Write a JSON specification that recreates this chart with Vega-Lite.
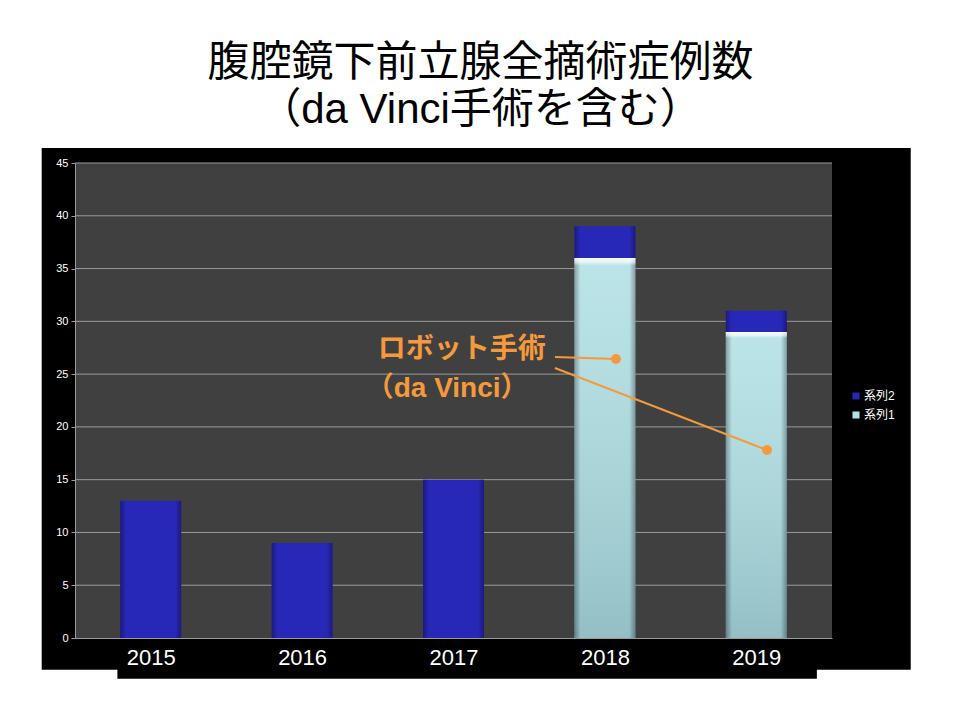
{
  "$schema": "https://vega.github.io/schema/vega-lite/v6.json",
  "width": 757,
  "height": 475,
  "autosize": "none",
  "padding": {"left": 75, "top": 163, "right": 128, "bottom": 82},
  "background": "white",
  "title": {
    "text": ["腹腔鏡下前立腺全摘術症例数", "（da Vinci手術を含む）"],
    "font": "'Liberation Sans', 'Noto Sans CJK JP'",
    "fontSize": 42,
    "fontWeight": "normal",
    "color": "black",
    "anchor": "middle",
    "dx": 27,
    "lineHeight": 47,
    "offset": 16
  },
  "datasets": {
    "cases": [
      {"year": 2015, "series": "系列2", "count": 13},
      {"year": 2016, "series": "系列2", "count": 9},
      {"year": 2017, "series": "系列2", "count": 15},
      {"year": 2018, "series": "系列1", "count": 36},
      {"year": 2018, "series": "系列2", "count": 3},
      {"year": 2019, "series": "系列1", "count": 29},
      {"year": 2019, "series": "系列2", "count": 2}
    ],
    "grid": [
      {"v": 5}, {"v": 10}, {"v": 15}, {"v": 20}, {"v": 25},
      {"v": 30}, {"v": 35}, {"v": 40}, {"v": 45}
    ],
    "pointer": [
      {"line": "a", "year": 2017.67, "value": 26.62},
      {"line": "a", "year": 2018.073, "value": 26.43},
      {"line": "b", "year": 2017.67, "value": 25.58},
      {"line": "b", "year": 2019.071, "value": 17.81}
    ],
    "dots": [
      {"year": 2018.073, "value": 26.43},
      {"year": 2019.071, "value": 17.81}
    ],
    "notes": [
      {"year": 2016.5, "value": 27.28, "text": "ロボット手術"},
      {"year": 2016.42, "value": 23.59, "text": "（da Vinci）"}
    ]
  },
  "data": {"name": "cases"},
  "layer": [
    {
      "data": {"values": [{}]},
      "mark": {"type": "rect", "color": "black"},
      "encoding": {
        "x": {"datum": 2014.28, "type": "quantitative", "scale": {"domain": [2014.5, 2019.5], "nice": false, "zero": false, "padding": 0},
          "axis": {"title": null, "zindex": 1, "values": [2015, 2016, 2017, 2018, 2019], "format": "d", "labelFont": "Liberation Sans", "labelFontSize": 22, "labelColor": "white", "labelPadding": 9, "ticks": false, "grid": false, "domainColor": "#9a9a9a", "labelFlush": false}},
        "x2": {"datum": 2020.02},
        "y": {"datum": 46.42, "type": "quantitative", "scale": {"domain": [0, 45], "nice": false, "zero": false},
          "axis": {"title": null, "zindex": 1, "values": [0, 5, 10, 15, 20, 25, 30, 35, 40, 45], "labelFont": "Liberation Sans", "labelFontSize": 11, "labelColor": "white", "labelPadding": 3, "tickSize": 4, "tickColor": "#9a9a9a", "grid": false, "domainColor": "#9a9a9a"}},
        "y2": {"datum": -3.0}
      }
    },
    {
      "data": {"values": [{}]},
      "mark": {"type": "rect", "color": "black"},
      "encoding": {
        "x": {"datum": 2014.78, "type": "quantitative", "scale": {"domain": [2014.5, 2019.5], "nice": false, "zero": false, "padding": 0},
          "axis": {"title": null, "zindex": 1, "values": [2015, 2016, 2017, 2018, 2019], "format": "d", "labelFont": "Liberation Sans", "labelFontSize": 22, "labelColor": "white", "labelPadding": 9, "ticks": false, "grid": false, "domainColor": "#9a9a9a", "labelFlush": false}},
        "x2": {"datum": 2019.4},
        "y": {"datum": -2.9, "type": "quantitative", "scale": {"domain": [0, 45], "nice": false, "zero": false},
          "axis": {"title": null, "zindex": 1, "values": [0, 5, 10, 15, 20, 25, 30, 35, 40, 45], "labelFont": "Liberation Sans", "labelFontSize": 11, "labelColor": "white", "labelPadding": 3, "tickSize": 4, "tickColor": "#9a9a9a", "grid": false, "domainColor": "#9a9a9a"}},
        "y2": {"datum": -3.85}
      }
    },
    {
      "data": {"values": [{}]},
      "mark": {"type": "rect", "color": "#404040"},
      "encoding": {
        "x": {"datum": 2014.5, "type": "quantitative", "scale": {"domain": [2014.5, 2019.5], "nice": false, "zero": false, "padding": 0},
          "axis": {"title": null, "zindex": 1, "values": [2015, 2016, 2017, 2018, 2019], "format": "d", "labelFont": "Liberation Sans", "labelFontSize": 22, "labelColor": "white", "labelPadding": 9, "ticks": false, "grid": false, "domainColor": "#9a9a9a", "labelFlush": false}},
        "x2": {"datum": 2019.5},
        "y": {"datum": 45, "type": "quantitative", "scale": {"domain": [0, 45], "nice": false, "zero": false},
          "axis": {"title": null, "zindex": 1, "values": [0, 5, 10, 15, 20, 25, 30, 35, 40, 45], "labelFont": "Liberation Sans", "labelFontSize": 11, "labelColor": "white", "labelPadding": 3, "tickSize": 4, "tickColor": "#9a9a9a", "grid": false, "domainColor": "#9a9a9a"}},
        "y2": {"datum": 0}
      }
    },
    {
      "data": {"name": "grid"},
      "mark": {"type": "rule", "color": "#9a9a9a", "strokeWidth": 1},
      "encoding": {
        "y": {"field": "v", "type": "quantitative", "scale": {"domain": [0, 45], "nice": false, "zero": false},
          "axis": {"title": null, "zindex": 1, "values": [0, 5, 10, 15, 20, 25, 30, 35, 40, 45], "labelFont": "Liberation Sans", "labelFontSize": 11, "labelColor": "white", "labelPadding": 3, "tickSize": 4, "tickColor": "#9a9a9a", "grid": false, "domainColor": "#9a9a9a"}}
      }
    },
    {
      "mark": {"type": "bar", "orient": "vertical", "width": 61, "opacity": 1},
      "encoding": {
        "x": {"field": "year", "type": "quantitative", "scale": {"domain": [2014.5, 2019.5], "nice": false, "zero": false, "padding": 0},
          "axis": {"title": null, "zindex": 1, "values": [2015, 2016, 2017, 2018, 2019], "format": "d", "labelFont": "Liberation Sans", "labelFontSize": 22, "labelColor": "white", "labelPadding": 9, "ticks": false, "grid": false, "domainColor": "#9a9a9a", "labelFlush": false}},
        "y": {"field": "count", "type": "quantitative", "stack": "zero", "scale": {"domain": [0, 45], "nice": false, "zero": false},
          "axis": {"title": null, "zindex": 1, "values": [0, 5, 10, 15, 20, 25, 30, 35, 40, 45], "labelFont": "Liberation Sans", "labelFontSize": 11, "labelColor": "white", "labelPadding": 3, "tickSize": 4, "tickColor": "#9a9a9a", "grid": false, "domainColor": "#9a9a9a"}},
        "color": {
          "field": "series", "type": "nominal",
          "scale": {"domain": ["系列1", "系列2"], "range": ["#b4e1e5", "#2828b8"]},
          "legend": {
            "title": null, "orient": "none", "legendX": 775, "legendY": 227,
            "values": ["系列2", "系列1"],
            "labelFont": "'Liberation Sans', 'Noto Sans CJK JP'", "labelFontSize": 12, "labelColor": "white",
            "symbolType": "square", "symbolSize": 49, "symbolStrokeWidth": 0,
            "rowPadding": 7, "labelOffset": 2, "padding": 0
          }
        },
        "order": {"field": "series", "sort": "ascending"}
      }
    },
    {
      "mark": {
        "type": "bar", "orient": "vertical", "width": 61, "opacity": 1,
        "color": {
          "gradient": "linear", "x1": 0, "y1": 0, "x2": 1, "y2": 0,
          "stops": [
            {"offset": 0, "color": "rgba(0,0,20,0.35)"},
            {"offset": 0.1, "color": "rgba(0,0,0,0)"},
            {"offset": 0.9, "color": "rgba(0,0,0,0)"},
            {"offset": 1, "color": "rgba(0,0,20,0.35)"}
          ]
        }
      },
      "encoding": {
        "x": {"field": "year", "type": "quantitative", "scale": {"domain": [2014.5, 2019.5], "nice": false, "zero": false, "padding": 0},
          "axis": {"title": null, "zindex": 1, "values": [2015, 2016, 2017, 2018, 2019], "format": "d", "labelFont": "Liberation Sans", "labelFontSize": 22, "labelColor": "white", "labelPadding": 9, "ticks": false, "grid": false, "domainColor": "#9a9a9a", "labelFlush": false}},
        "y": {"field": "count", "type": "quantitative", "stack": "zero", "scale": {"domain": [0, 45], "nice": false, "zero": false},
          "axis": {"title": null, "zindex": 1, "values": [0, 5, 10, 15, 20, 25, 30, 35, 40, 45], "labelFont": "Liberation Sans", "labelFontSize": 11, "labelColor": "white", "labelPadding": 3, "tickSize": 4, "tickColor": "#9a9a9a", "grid": false, "domainColor": "#9a9a9a"}},
        "detail": {"field": "series"},
        "order": {"field": "series", "sort": "ascending"}
      }
    },
    {
      "transform": [{"filter": "datum.series === '系列1'"}],
      "mark": {
        "type": "bar", "orient": "vertical", "width": 61, "opacity": 1,
        "color": {
          "gradient": "linear", "x1": 0, "y1": 0, "x2": 0, "y2": 1,
          "stops": [
            {"offset": 0, "color": "rgba(255,255,255,0.9)"},
            {"offset": 0.012, "color": "rgba(255,255,255,0.6)"},
            {"offset": 0.02, "color": "rgba(255,255,255,0.1)"},
            {"offset": 1, "color": "rgba(0,40,50,0.18)"}
          ]
        }
      },
      "encoding": {
        "x": {"field": "year", "type": "quantitative", "scale": {"domain": [2014.5, 2019.5], "nice": false, "zero": false, "padding": 0},
          "axis": {"title": null, "zindex": 1, "values": [2015, 2016, 2017, 2018, 2019], "format": "d", "labelFont": "Liberation Sans", "labelFontSize": 22, "labelColor": "white", "labelPadding": 9, "ticks": false, "grid": false, "domainColor": "#9a9a9a", "labelFlush": false}},
        "y": {"field": "count", "type": "quantitative", "stack": "zero", "scale": {"domain": [0, 45], "nice": false, "zero": false},
          "axis": {"title": null, "zindex": 1, "values": [0, 5, 10, 15, 20, 25, 30, 35, 40, 45], "labelFont": "Liberation Sans", "labelFontSize": 11, "labelColor": "white", "labelPadding": 3, "tickSize": 4, "tickColor": "#9a9a9a", "grid": false, "domainColor": "#9a9a9a"}}
      }
    },
    {
      "data": {"name": "pointer"},
      "mark": {"type": "line", "color": "#f59a3c", "strokeWidth": 2},
      "encoding": {
        "x": {"field": "year", "type": "quantitative", "scale": {"domain": [2014.5, 2019.5], "nice": false, "zero": false, "padding": 0},
          "axis": {"title": null, "zindex": 1, "values": [2015, 2016, 2017, 2018, 2019], "format": "d", "labelFont": "Liberation Sans", "labelFontSize": 22, "labelColor": "white", "labelPadding": 9, "ticks": false, "grid": false, "domainColor": "#9a9a9a", "labelFlush": false}},
        "y": {"field": "value", "type": "quantitative", "scale": {"domain": [0, 45], "nice": false, "zero": false},
          "axis": {"title": null, "zindex": 1, "values": [0, 5, 10, 15, 20, 25, 30, 35, 40, 45], "labelFont": "Liberation Sans", "labelFontSize": 11, "labelColor": "white", "labelPadding": 3, "tickSize": 4, "tickColor": "#9a9a9a", "grid": false, "domainColor": "#9a9a9a"}},
        "detail": {"field": "line"}
      }
    },
    {
      "data": {"name": "dots"},
      "mark": {"type": "point", "filled": true, "color": "#f59a3c", "size": 100, "opacity": 1},
      "encoding": {
        "x": {"field": "year", "type": "quantitative", "scale": {"domain": [2014.5, 2019.5], "nice": false, "zero": false, "padding": 0},
          "axis": {"title": null, "zindex": 1, "values": [2015, 2016, 2017, 2018, 2019], "format": "d", "labelFont": "Liberation Sans", "labelFontSize": 22, "labelColor": "white", "labelPadding": 9, "ticks": false, "grid": false, "domainColor": "#9a9a9a", "labelFlush": false}},
        "y": {"field": "value", "type": "quantitative", "scale": {"domain": [0, 45], "nice": false, "zero": false},
          "axis": {"title": null, "zindex": 1, "values": [0, 5, 10, 15, 20, 25, 30, 35, 40, 45], "labelFont": "Liberation Sans", "labelFontSize": 11, "labelColor": "white", "labelPadding": 3, "tickSize": 4, "tickColor": "#9a9a9a", "grid": false, "domainColor": "#9a9a9a"}}
      }
    },
    {
      "data": {"name": "notes"},
      "mark": {"type": "text", "color": "#f59a3c", "font": "'Liberation Sans', 'Noto Sans CJK JP'", "fontSize": 28, "fontWeight": "bold", "align": "left", "baseline": "middle"},
      "encoding": {
        "x": {"field": "year", "type": "quantitative", "scale": {"domain": [2014.5, 2019.5], "nice": false, "zero": false, "padding": 0},
          "axis": {"title": null, "zindex": 1, "values": [2015, 2016, 2017, 2018, 2019], "format": "d", "labelFont": "Liberation Sans", "labelFontSize": 22, "labelColor": "white", "labelPadding": 9, "ticks": false, "grid": false, "domainColor": "#9a9a9a", "labelFlush": false}},
        "y": {"field": "value", "type": "quantitative", "scale": {"domain": [0, 45], "nice": false, "zero": false},
          "axis": {"title": null, "zindex": 1, "values": [0, 5, 10, 15, 20, 25, 30, 35, 40, 45], "labelFont": "Liberation Sans", "labelFontSize": 11, "labelColor": "white", "labelPadding": 3, "tickSize": 4, "tickColor": "#9a9a9a", "grid": false, "domainColor": "#9a9a9a"}},
        "text": {"field": "text"}
      }
    }
  ],
  "config": {
    "view": {"stroke": null}
  }
}
